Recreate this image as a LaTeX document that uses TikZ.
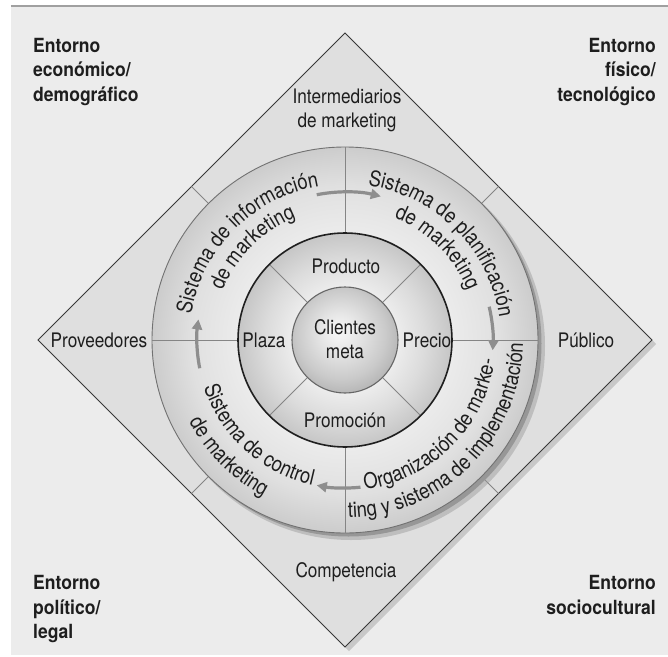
\documentclass[tikz,border=0pt]{standalone}
\usepackage{fontspec}
\setmainfont{TeX Gyre Heros}[FakeStretch=0.86]
\newfontfamily\cornerfont{TeX Gyre Heros}[FakeStretch=0.9]
\usetikzlibrary{arrows.meta,decorations.text}

\definecolor{bgcol}{HTML}{ECECEC}
\definecolor{framecol}{HTML}{A0A0A0}
\definecolor{diamondfill}{HTML}{DFDFDF}
\definecolor{diamondshade}{HTML}{C8C8C8}
\definecolor{edgecol}{HTML}{383838}
\definecolor{linecol}{HTML}{858585}
\definecolor{arrowcol}{HTML}{8E8E8E}
\definecolor{inkcol}{HTML}{1E1E1E}
\definecolor{ringshadow}{HTML}{979797}
\definecolor{ringA}{HTML}{F4F4F4}
\definecolor{ringB}{HTML}{ECECEC}
\definecolor{ringC}{HTML}{E0E0E0}
\definecolor{ringD}{HTML}{CCCCCC}
\definecolor{midA}{HTML}{ECECEC}
\definecolor{midB}{HTML}{DCDCDC}
\definecolor{midC}{HTML}{C6C6C6}
\definecolor{coreA}{HTML}{F8F8F8}
\definecolor{coreB}{HTML}{E6E6E6}
\definecolor{coreC}{HTML}{CACACA}
\definecolor{coreD}{HTML}{ABABAB}

% radial shadings: a path's radius corresponds to 25bp
\pgfdeclareradialshading{outerring}{\pgfpoint{0bp}{0bp}}{color(0bp)=(ringA); color(13.5bp)=(ringB); color(20bp)=(ringC); color(25bp)=(ringD); color(50bp)=(ringD)}
\pgfdeclareradialshading{midring}{\pgfpoint{0bp}{0bp}}{color(0bp)=(midA); color(12.5bp)=(midA); color(18.5bp)=(midB); color(25bp)=(midC); color(50bp)=(midC)}
\pgfdeclareradialshading{coreball}{\pgfpoint{-3bp}{4.5bp}}{color(0bp)=(coreA); color(9bp)=(coreB); color(21bp)=(coreC); color(31bp)=(coreD); color(50bp)=(coreD)}

\newcommand\labelsize{\fontsize{20}{24}\selectfont}
\newcommand\cornersize{\fontsize{19.5}{24}\selectfont}
\newcommand\arcfont{\fontsize{21.5}{24}\selectfont}

\begin{document}
\begin{tikzpicture}[x=1pt,y=1pt,
  ringline/.style={draw=linecol,line width=0.9pt},
  flowarrow/.style={draw=arrowcol,line width=3.2pt,-{Triangle[length=10pt,width=10pt]}},
  plainlabel/.style={text=inkcol,font=\labelsize,inner sep=0pt},
  cornerlabel/.style={text=inkcol,font=\cornerfont\bfseries\cornersize,inner sep=0pt},
  arctext/.style={decorate,decoration={text along path,text align=center,text color=inkcol,text={#1}}}
]
% page and backdrop
\useasboundingbox (-345,-316) rectangle (323,340);
\fill[white] (-345,-316) rectangle (323,340);
\fill[bgcol] (-334,-315) rectangle (323,333);
\draw[framecol,line width=1.4pt] (-334,334) -- (323,334);

% diamond of the marketing environment
\coordinate (C) at (0,0);
\coordinate (N) at (0,307);
\coordinate (E) at (307,0);
\coordinate (S) at (0,-307);
\coordinate (W) at (-307,0);
\begin{scope}[transform canvas={shift={(4pt,-4pt)}}]
  \fill[diamondshade] (N) -- (E) -- (S) -- (W) -- cycle;
\end{scope}
\filldraw[fill=diamondfill,draw=edgecol,line width=1pt] (N) -- (E) -- (S) -- (W) -- cycle;
\foreach \a in {45,135,225,315}
  \draw[ringline] (\a:193) -- (\a:217);

% outer ring: marketing systems
\fill[ringshadow,opacity=0.45] (6,-6) circle[radius=194];
\fill[ringshadow] (3.5,-3.5) circle[radius=193];
\shade[shading=outerring] (C) circle[radius=193];
\draw[draw=linecol!85!black,line width=0.9pt] (C) circle[radius=193];
\foreach \a in {0,90,180,270}
  \draw[ringline] (\a:107) -- (\a:193);

\path[arctext={|\arcfont|Sistema de información}] (180:156) arc[start angle=180,end angle=90,radius=156];
\path[arctext={|\arcfont|de marketing}] (180:132) arc[start angle=180,end angle=90,radius=132];
\path[arctext={|\arcfont|Sistema de planificación}] (90:156) arc[start angle=90,end angle=0,radius=156];
\path[arctext={|\arcfont|de marketing}] (90:132) arc[start angle=90,end angle=0,radius=132];
\path[arctext={|\arcfont|Organización de marke-}] (265:151) arc[start angle=265,end angle=365,radius=151];
\path[arctext={|\arcfont|ting y sistema de implementación}] (265:178) arc[start angle=265,end angle=365,radius=178];
\path[arctext={|\arcfont|Sistema de control}] (178:149) arc[start angle=178,end angle=278,radius=149];
\path[arctext={|\arcfont|de marketing}] (175:176) arc[start angle=175,end angle=275,radius=176];

% clockwise flow between the systems
\draw[flowarrow] (101:148) arc[start angle=101,end angle=76,radius=148];
\draw[flowarrow] (13:148) arc[start angle=13,end angle=-4,radius=148];
\draw[flowarrow] (-84:148) arc[start angle=-84,end angle=-101,radius=148];
\draw[flowarrow] (191:148) arc[start angle=191,end angle=172,radius=148];

% middle ring: the four P's
\shade[shading=midring] (C) circle[radius=107];
\foreach \a in {45,135,225,315}
  \draw[ringline] (\a:53) -- (\a:107);
\draw[draw=black!88,line width=1.6pt] (C) circle[radius=107];

% core: target customers
\shade[shading=coreball] (C) circle[radius=53];
\draw[draw=black!60,line width=1.1pt] (C) circle[radius=53];

\node[plainlabel,anchor=base] (cli1) at (0,6) {Clientes};
\node[plainlabel,anchor=base] (cli2) at (0,-18) {meta};
\node[plainlabel,anchor=base] (prod) at (1,67) {Producto};
\node[plainlabel,anchor=base] (prec) at (82,-7) {Precio};
\node[plainlabel,anchor=base] (plaz) at (-81,-7) {Plaza};
\node[plainlabel,anchor=base] (prom) at (0,-87) {Promoción};

% actors inside the diamond
\node[plainlabel,anchor=base] (int1) at (2,236) {Intermediarios};
\node[plainlabel,anchor=base] (int2) at (2,212) {de marketing};
\node[plainlabel,anchor=base] (prov) at (-246,-7) {Proveedores};
\node[plainlabel,anchor=base] (publ) at (241,-7) {Público};
\node[plainlabel,anchor=base] (comp) at (1,-237) {Competencia};

% environmental forces in the corners
\node[cornerlabel,anchor=base west] (tl1) at (-312,287) {Entorno};
\node[cornerlabel,anchor=base west] (tl2) at (-312,263) {económico/};
\node[cornerlabel,anchor=base west] (tl3) at (-312,238) {demográfico};
\node[cornerlabel,anchor=base east] (tr1) at (311,287) {Entorno};
\node[cornerlabel,anchor=base east] (tr2) at (311,263) {físico/};
\node[cornerlabel,anchor=base east] (tr3) at (311,238) {tecnológico};
\node[cornerlabel,anchor=base west] (bl1) at (-312,-249) {Entorno};
\node[cornerlabel,anchor=base west] (bl2) at (-312,-274) {político/};
\node[cornerlabel,anchor=base west] (bl3) at (-312,-298) {legal};
\node[cornerlabel,anchor=base east] (br1) at (311,-249) {Entorno};
\node[cornerlabel,anchor=base east] (br2) at (311,-274) {sociocultural};
\end{tikzpicture}
\end{document}
